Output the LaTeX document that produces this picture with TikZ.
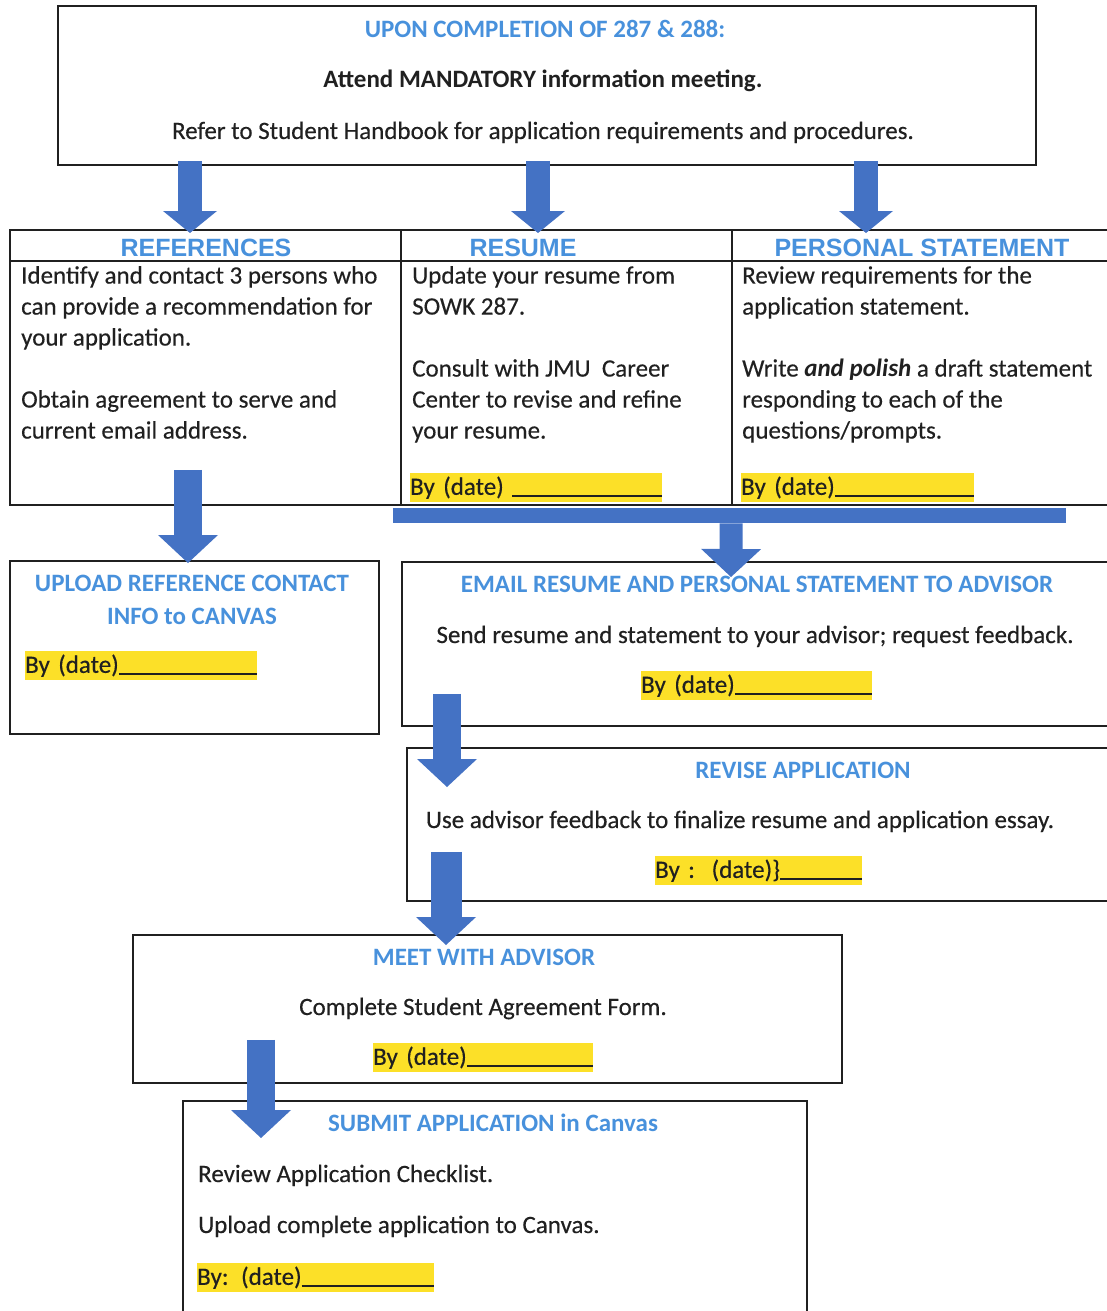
\documentclass[tikz,border=0pt]{standalone}
\usepackage{fontspec}
\setmainfont{Carlito}[UprightFeatures={FakeBold=0.35}]
\newfontfamily\headfont{Liberation Sans}
\usetikzlibrary{arrows.meta,positioning}

\definecolor{flowblue}{RGB}{68,114,196}
\definecolor{headblue}{RGB}{72,145,220}
\definecolor{dateyellow}{RGB}{252,224,40}
\definecolor{inkgray}{RGB}{32,32,32}

\newcommand{\dateline}{\leaders\hrule height -0.6pt depth 2.2pt\hfill\null}

\tikzset{
  box/.style={draw=inkgray, line width=1.8pt, anchor=north west, inner sep=0pt},
  rule/.style={draw=inkgray, line width=1.8pt},
  head/.style={text=headblue, inner sep=0pt, font=\fontsize{25}{31}\selectfont\bfseries},
  colhead/.style={text=headblue, inner sep=0pt, font=\headfont\fontsize{25}{30}\selectfont\bfseries},
  body/.style={text=inkgray, inner sep=0pt, font=\fontsize{25}{31}\selectfont},
  datebar/.style={fill=dateyellow, anchor=north west, inner sep=0pt, minimum height=29pt,
    align=left, text=inkgray, font=\fontsize{25}{31}\selectfont},
  flow/.style={draw=flowblue, line width=28pt, -{Triangle[width=60pt,length=28pt,line width=0pt]}},
  topflow/.style={draw=flowblue, line width=24pt, -{Triangle[width=54pt,length=22pt,line width=0pt]}},
}

\begin{document}
\begin{tikzpicture}[x=1pt,y=-1pt]
  \useasboundingbox (0,0) rectangle (1107,1311);
  \clip (0,0) rectangle (1107,1311);

  % boxes
  \node[box, minimum width=978pt, minimum height=159pt] (top) at (57,5) {};
  \node[box, minimum width=391pt, minimum height=275pt] (refcol) at (9,229) {};
  \node[box, minimum width=331pt, minimum height=275pt] (rescol) at (400,229) {};
  \node[box, minimum width=400pt, minimum height=275pt] (pscol) at (731,229) {};
  \draw[rule] ([yshift=-32pt]refcol.north west) -- ([yshift=-32pt]pscol.north east);
  \node[box, minimum width=369pt, minimum height=173pt] (upload) at (9,560) {};
  \node[box, minimum width=720pt, minimum height=164pt] (email) at (401,561) {};
  \node[box, minimum width=720pt, minimum height=153pt] (revise) at (406,747) {};
  \node[box, minimum width=709pt, minimum height=148pt] (meet) at (132,934) {};
  \node[box, minimum width=624pt, minimum height=240pt] (submit) at (182,1100) {};

  % top box
  \node[head, anchor=base] (toptitle) at (545,38) {UPON COMPLETION OF 287 \& 288:};
  \node[body, anchor=base] (meeting) at (543,88) {\textbf{Attend MANDATORY information meeting.}};
  \node[body, anchor=base] (handbook) at (543,139) {Refer to Student Handbook for application requirements and procedures.};

  % three columns
  \node[colhead, anchor=base] (refhead) at (206,256) {REFERENCES};
  \node[colhead, anchor=base] (reshead) at (523,256) {RESUME};
  \node[colhead, anchor=base] (pshead) at (922,256) {PERSONAL STATEMENT};
  \node[body, anchor=north west, align=left] (reftext) at (21,266)
    {Identify and contact 3 persons who\\can provide a recommendation for\\your application.\\[31pt]
     Obtain agreement to serve and\\current email address.};
  \node[body, anchor=north west, align=left] (restext) at (412,266)
    {Update your resume from\\SOWK 287.\\[31pt]Consult with JMU\ \ Career\\Center to revise and refine\\your resume.};
  \node[body, anchor=north west, align=left] (pstext) at (742,266)
    {Review requirements for the\\application statement.\\[31pt]
     Write \textbf{\itshape and polish} a draft statement\\responding to each of the\\questions/prompts.};
  \node[datebar, text width=252pt] (resdate) at (410,473) {By (date) \dateline};
  \node[datebar, text width=233pt] (psdate) at (741,473) {By (date)\dateline};

  % upload box
  \node[head, anchor=north, align=center] (uploadtitle) at (192,575)
    {UPLOAD REFERENCE CONTACT\\[2pt]INFO to CANVAS};
  \node[datebar, text width=232pt] (uploaddate) at (25,651) {By (date)\dateline};

  % email box
  \node[head, anchor=base] (emailtitle) at (757,592) {EMAIL RESUME AND PERSONAL STATEMENT TO ADVISOR};
  \node[body, anchor=base] (emailtext) at (755,643) {Send resume and statement to your advisor; request feedback.};
  \node[datebar, text width=231pt] (emaildate) at (641,671) {By (date)\dateline};

  % revise box
  \node[head, anchor=base] (revisetitle) at (803,778) {REVISE APPLICATION};
  \node[body, anchor=base] (revisetext) at (740,828) {Use advisor feedback to finalize resume and application essay.};
  \node[datebar, text width=207pt] (revisedate) at (655,856) {By :\ \ (date)\}\dateline};

  % meet box
  \node[head, anchor=base] (meettitle) at (484,965) {MEET WITH ADVISOR};
  \node[body, anchor=base] (meettext) at (483,1015) {Complete Student Agreement Form.};
  \node[datebar, text width=220pt] (meetdate) at (373,1043) {By (date)\dateline};

  % submit box
  \node[head, anchor=base] (submittitle) at (493,1131) {SUBMIT APPLICATION in Canvas};
  \node[body, anchor=base west] (checklist) at (198,1182) {Review Application Checklist.};
  \node[body, anchor=base west] (uploadall) at (198,1233) {Upload complete application to Canvas.};
  \node[datebar, text width=237pt] (submitdate) at (197,1263) {By: (date)\dateline};

  % block arrows
  \draw[topflow] ([xshift=133pt,yshift=5pt]top.south west) -- ([xshift=181pt,yshift=-4pt]refcol.north west);
  \draw[topflow] ([xshift=481pt,yshift=5pt]top.south west) -- ([xshift=138pt,yshift=-4pt]rescol.north west);
  \draw[topflow] ([xshift=809pt,yshift=5pt]top.south west) -- ([xshift=135pt,yshift=-4pt]pscol.north west);
  \draw[flow] ([xshift=179pt,yshift=36pt]refcol.south west) -- ([xshift=179pt,yshift=-3pt]upload.north west);
  \node[fill=flowblue, inner sep=0pt, anchor=north west, minimum width=673pt, minimum height=15pt] (bar) at (393,508) {};
  \draw[flow, line width=23pt] ([xshift=1.5pt]bar.south) -- ([xshift=330pt,yshift=-16pt]email.north west);
  \draw[flow] ([xshift=46pt,yshift=33pt]email.south west) -- ([xshift=41pt,yshift=-40pt]revise.north west);
  \draw[flow, line width=31pt] ([xshift=40pt,yshift=50pt]revise.south west) -- ([xshift=314pt,yshift=-11pt]meet.north west);
  \draw[flow] ([xshift=129pt,yshift=44pt]meet.south west) -- ([xshift=79pt,yshift=-38pt]submit.north west);
\end{tikzpicture}
\end{document}
